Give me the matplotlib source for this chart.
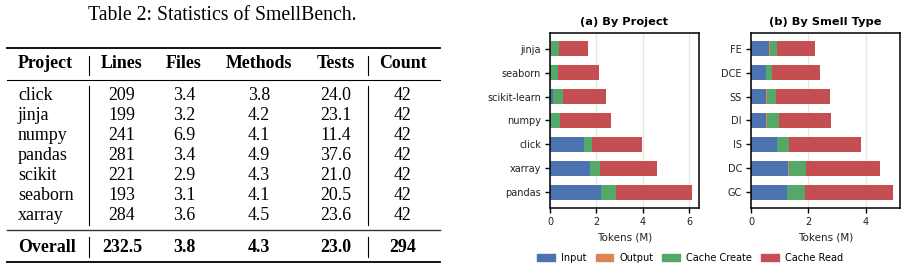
import matplotlib
matplotlib.use("Agg")
import matplotlib.pyplot as plt
from matplotlib.patches import Patch

# ---------------- data ----------------
table_title = "Table 2: Statistics of SmellBench."
table_cols = ["Project", "Lines", "Files", "Methods", "Tests", "Count"]
table_projects = ["click", "jinja", "numpy", "pandas", "scikit", "seaborn", "xarray"]
table_lines = ["209", "199", "241", "281", "221", "193", "284"]
table_files = ["3.4", "3.2", "6.9", "3.4", "2.9", "3.1", "3.6"]
table_methods = ["3.8", "4.2", "4.1", "4.9", "4.3", "4.1", "4.5"]
table_tests = ["24.0", "23.1", "11.4", "37.6", "21.0", "20.5", "23.6"]
table_count = ["42", "42", "42", "42", "42", "42", "42"]
table_overall = ["Overall", "232.5", "3.8", "4.3", "23.0", "294"]

proj_labels = ["jinja", "seaborn", "scikit-learn", "numpy", "click", "xarray", "pandas"]
proj_input = [0.02, 0.01, 0.11, 0.03, 1.46, 1.72, 2.20]
proj_output = [0.01, 0.00, 0.04, 0.03, 0.02, 0.01, 0.01]
proj_create = [0.36, 0.32, 0.41, 0.37, 0.31, 0.41, 0.63]
proj_read = [1.23, 1.78, 1.85, 2.20, 2.17, 2.47, 3.27]

smell_labels = ["FE", "DCE", "SS", "DI", "IS", "DC", "GC"]
smell_input = [0.63, 0.52, 0.52, 0.52, 0.91, 1.29, 1.26]
smell_output = [0.02, 0.01, 0.04, 0.03, 0.01, 0.03, 0.01]
smell_create = [0.26, 0.19, 0.31, 0.43, 0.41, 0.59, 0.60]
smell_read = [1.32, 1.69, 1.89, 1.81, 2.51, 2.59, 3.08]

series_names = ["Input", "Output", "Cache Create", "Cache Read"]
colors = ["#4C72B0", "#DD8452", "#55A868", "#C44E52"]

W, H = 907, 271
fig = plt.figure(figsize=(W / 100, H / 100), dpi=100)

# ---------------- table ----------------
tax = fig.add_axes([0, 0, 1, 1])
tax.set_xlim(0, W)
tax.set_ylim(H, 0)
tax.axis("off")
serif = "Liberation Serif"
fs = 12.9
tax.text(222, 15, table_title, ha="center", va="center", fontsize=14.2, family=serif)

tax.plot([7, 440], [47.5, 47.5], color="black", lw=1.3)
tax.plot([7, 440], [79.5, 79.5], color="black", lw=0.8)
tax.plot([7, 440], [230, 230], color="#333333", lw=1.0)
tax.plot([7, 440], [262, 262], color="black", lw=1.3)

col_x = [18, 122, 184, 259, 336, 403]
col_ha = ["left", "center", "center", "center", "center", "center"]
for x, ha, c in zip(col_x, col_ha, table_cols):
    tax.text(x, 63, c, ha=ha, va="center", fontsize=fs, family=serif, weight="bold")
body = list(zip(table_projects, table_lines, table_files, table_methods, table_tests, table_count))
row_y = [95 + 20 * i for i in range(len(body))]
for y, row in zip(row_y, body):
    for x, ha, v in zip(col_x, col_ha, row):
        tax.text(x, y, v, ha=ha, va="center", fontsize=fs, family=serif)
for x, ha, v in zip(col_x, col_ha, table_overall):
    tax.text(x, 247, v, ha=ha, va="center", fontsize=fs, family=serif, weight="bold")
for vx in (88.5, 368):
    tax.plot([vx, vx], [56, 75], color="black", lw=0.8)
    tax.plot([vx, vx], [86, 225], color="black", lw=0.8)
    tax.plot([vx, vx], [237, 257], color="black", lw=0.8)


# ---------------- bar charts ----------------
def panel(rect, labels, inp, out, cre, rea, title):
    ax = fig.add_axes(rect)
    ys = list(range(len(labels)))
    left = [0.0] * len(labels)
    for vals, col in zip((inp, out, cre, rea), colors):
        ax.barh(ys, vals, left=left, height=0.62, color=col, zorder=2)
        left = [l + v for l, v in zip(left, vals)]
    ax.set_yticks(ys)
    ax.set_yticklabels(labels)
    ax.set_xlim(0, max(left) * 1.05)
    ax.set_ylim(len(labels) - 0.5 + 0.15, -0.5 - 0.15)
    ax.xaxis.grid(True, color="#e6e6e6", lw=0.9, zorder=0)
    ax.set_axisbelow(True)
    ax.tick_params(axis="both", labelsize=7, length=3.5, width=1.0, colors="black",
                   labelcolor="#222222", pad=3)
    for s in ax.spines.values():
        s.set_linewidth(1.1)
    ax.set_xlabel("Tokens (M)", fontsize=7.5, labelpad=4, color="#222222")
    ax.set_title(title, fontsize=8.2, weight="bold", pad=6)
    return ax


panel([550 / W, 1 - 208 / H, 149 / W, 175 / H], proj_labels, proj_input, proj_output,
      proj_create, proj_read, "(a) By Project")
panel([751 / W, 1 - 208 / H, 149 / W, 175 / H], smell_labels, smell_input, smell_output,
      smell_create, smell_read, "(b) By Smell Type")

handles = [Patch(color=c, label=n) for c, n in zip(colors, series_names)]
fig.legend(handles=handles, loc="center", bbox_to_anchor=(690 / W, 1 - 258 / H), ncol=4,
           frameon=False, fontsize=7, handlelength=1.8, handleheight=0.75,
           columnspacing=0.95, handletextpad=0.62)

fig.savefig("out.png", dpi=100)
